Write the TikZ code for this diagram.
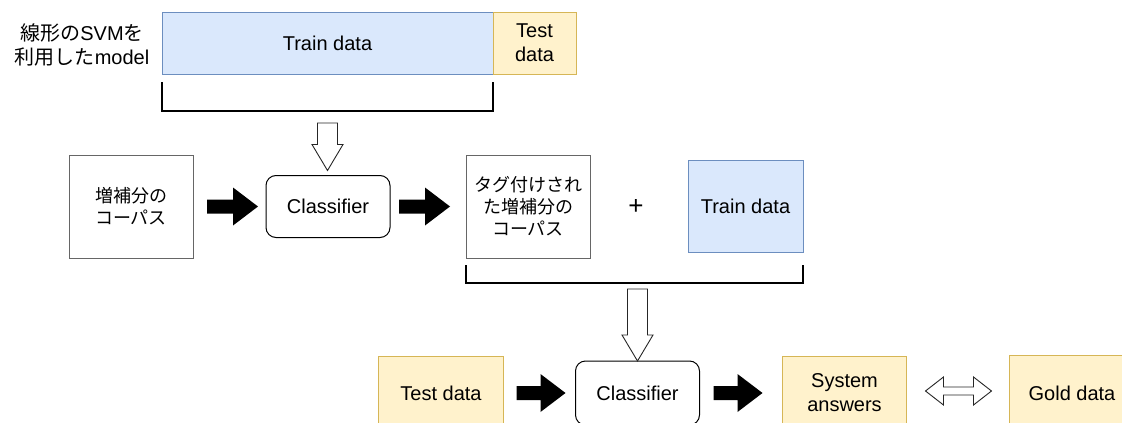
\documentclass[tikz,border=0pt]{standalone}
\usepackage{fontspec}
\setmainfont{Liberation Sans}
\newfontfamily\jpfont{Noto Sans CJK JP}
\usepackage{tikz}
\usetikzlibrary{positioning}
\usetikzlibrary{calc}
\definecolor{trainfill}{HTML}{DAE8FC}
\definecolor{trainline}{HTML}{6C8EBF}
\definecolor{testfill}{HTML}{FFF2CC}
\definecolor{testline}{HTML}{D6B656}
\definecolor{corpline}{HTML}{666666}

\tikzset{
  trainbox/.style={draw=trainline,fill=trainfill,line width=1pt},
  testbox/.style={draw=testline,fill=testfill,line width=1pt},
  corpus/.style={draw=corpline,line width=1pt,minimum width=124pt,minimum height=103pt},
  classifier/.style={draw,line width=1pt,rounded corners=10pt,minimum width=124pt,minimum height=62pt},
  jp/.style={font=\jpfont\fontsize{18}{22}\selectfont},
  bracket/.style={line width=2pt},
  fatarrow/.style={fill=black,to path={let \p1=(\tikztostart),\p2=(\tikztotarget) in
    (\x1,\y1+7pt) -- (\x2-25pt,\y1+7pt) -- (\x2-25pt,\y1+19pt) -- (\x2,\y1)
    -- (\x2-25pt,\y1-19pt) -- (\x2-25pt,\y1-7pt) -- (\x1,\y1-7pt) -- cycle}},
  hollowdown/.style={draw=black!85,fill=white,line width=0.9pt,to path={let \p1=(\tikztostart),\p2=(\tikztotarget) in
    (\x1-10pt,\y1) -- (\x1-10pt,\y2+26pt) -- (\x1-15.5pt,\y2+26pt) -- (\x1,\y2)
    -- (\x1+15.5pt,\y2+26pt) -- (\x1+10pt,\y2+26pt) -- (\x1+10pt,\y1) -- cycle}},
  hollowboth/.style={draw=black!85,fill=white,line width=0.9pt,to path={let \p1=(\tikztostart),\p2=(\tikztotarget) in
    (\x1,\y1) -- (\x1+18pt,\y1+14pt) -- (\x1+18pt,\y1+4pt) -- (\x2-18pt,\y1+4pt) -- (\x2-18pt,\y1+14pt)
    -- (\x2,\y1) -- (\x2-18pt,\y1-14pt) -- (\x2-18pt,\y1-4pt) -- (\x1+18pt,\y1-4pt) -- (\x1+18pt,\y1-14pt) -- cycle}}
}

\begin{document}
\begin{tikzpicture}[x=1pt,y=1pt,every node/.style={inner sep=0pt,outer sep=0pt,align=center,font=\fontsize{20}{24}\selectfont}]
	\useasboundingbox (0,0) rectangle (1122,-423);
	\clip (0,0) rectangle (1122,-423);
	\fill[white] (0,0) rectangle (1122,-423);

	% first model
	\node (model) at (82,-45) {{\jpfont 線形の}SVM{\jpfont を}\\{\jpfont 利用した}model};
	\node (train) [trainbox,minimum width=331pt,minimum height=62pt] at (327.5,-43) {Train data};
	\node (test) [testbox,minimum width=83pt,minimum height=62pt,right=0pt of train] {Test\\data};

	\node (corp) [corpus,jp] at (131,-206.5) {増補分の\\コーパス};
	\node (cls1) [classifier,right=73pt of corp] {Classifier};
	\node (tagged) [corpus,jp,right=76pt of cls1] {タグ付けされ\\た増補分の\\コーパス};
	\node (plus) [font=\fontsize{26}{26}\selectfont] at (636,-207) {+};
	\node (train2) [trainbox,minimum width=115pt,minimum height=92pt,right=98pt of tagged] {Train data};

	% second model
	\node (cls2) [classifier,minimum height=64pt] at (637.5,-393) {Classifier};
	\node (testb) [testbox,minimum width=125pt,minimum height=74pt,left=72pt of cls2] {Test data};
	\node (sysans) [testbox,minimum width=124pt,minimum height=74pt,right=83pt of cls2] {System\\answers};
	\node (gold) [testbox,minimum width=125pt,minimum height=76pt,right=103pt of sysans] {Gold data};

	\draw[bracket] ([yshift=-8pt]train.south west) -- ++(0,-29) -| ([yshift=-8pt]train.south east);
	\draw[bracket] ([yshift=-7pt]tagged.south west) -- ++(0,-18) -| ([yshift=-7pt]tagged.south -| train2.east);
	\coordinate (br1) at ([yshift=-37pt]train.south);
	\coordinate (br2) at ([yshift=-25pt]tagged.south -| cls2);

	\path[fatarrow] ([xshift=14pt]corp.east) to ([xshift=-8pt]cls1.west);
	\path[fatarrow] ([xshift=9pt]cls1.east) to ([xshift=-16pt]tagged.west);
	\path[fatarrow] ([xshift=13pt]testb.east) to ([xshift=-10pt]cls2.west);
	\path[fatarrow] ([xshift=14pt]cls2.east) to ([xshift=-20pt]sysans.west);
	\path[hollowdown] ([yshift=-12pt]br1) to ([yshift=5pt]cls1.north);
	\path[hollowdown] ([yshift=-6pt]br2) to (cls2.north);
	\path[hollowboth] ([shift={(19pt,2pt)}]sysans.east) to ([shift={(-18pt,2pt)}]gold.west);
\end{tikzpicture}
\end{document}
